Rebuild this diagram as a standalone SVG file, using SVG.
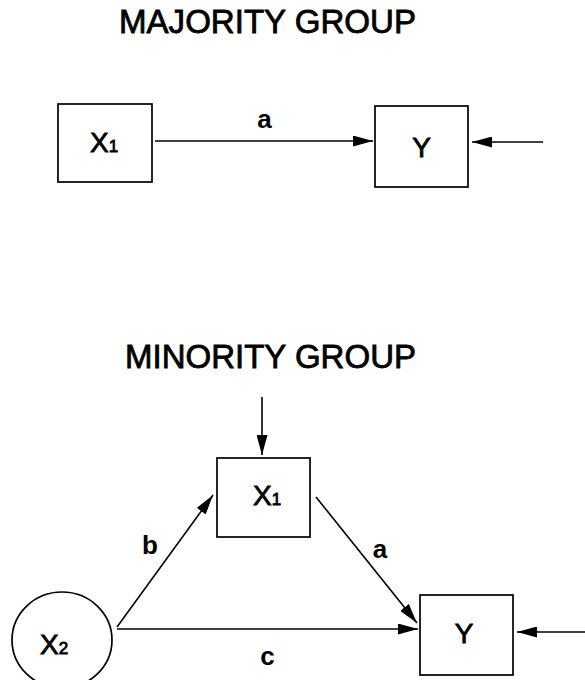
<svg xmlns="http://www.w3.org/2000/svg" width="585" height="680" viewBox="0 0 585 680">
<defs>
<marker id="ah" markerUnits="userSpaceOnUse" markerWidth="20" markerHeight="11" refX="20" refY="5.5" orient="auto">
<path d="M0,0 L20,5.5 L0,11 z" fill="#000"/>
</marker>
<style>
.box{fill:#fff;stroke:#000;stroke-width:1.7}
.edge{fill:none;stroke:#000;stroke-width:1.6;marker-end:url(#ah)}
.title{font-family:"Liberation Sans",Arial,sans-serif;font-size:33px;fill:#000;stroke:#000;stroke-width:0.8}
.var{font-family:"Liberation Sans",Arial,sans-serif;font-size:28px;fill:#000;stroke:#000;stroke-width:0.8}
.sub{font-size:17px}
.lbl{font-family:"Liberation Sans",Arial,sans-serif;font-size:26px;font-weight:bold;fill:#000;text-anchor:middle}
</style>
</defs>
<rect width="585" height="680" fill="#fff"/>
<text class="title" x="119" y="33" textLength="297" lengthAdjust="spacingAndGlyphs">MAJORITY GROUP</text>
<text class="title" x="125" y="368" textLength="291" lengthAdjust="spacingAndGlyphs">MINORITY GROUP</text>
<g id="connectors">
<path class="edge" d="M155,141 L373,141"/>
<path class="edge" d="M543,142 L472,142"/>
<path class="edge" d="M262,397 L262,455"/>
<path class="edge" d="M117,627 L213,495"/>
<path class="edge" d="M316,497 L417,623"/>
<path class="edge" d="M117,629 L418,629"/>
<path class="edge" d="M585,632 L517,632"/>
<text class="lbl" x="264.5" y="128">a</text>
<text class="lbl" x="150" y="554">b</text>
<text class="lbl" x="380" y="558">a</text>
<text class="lbl" x="267.5" y="665">c</text>
</g>
<g id="maj-x1">
<rect class="box" x="58" y="104" width="94" height="78"/>
<text class="var" x="90" y="152">X<tspan class="sub">1</tspan></text>
</g>
<g id="maj-y">
<rect class="box" x="375" y="106" width="93" height="81"/>
<text class="var" x="421.5" y="157" text-anchor="middle">Y</text>
</g>
<g id="min-x1">
<rect class="box" x="217" y="458" width="93" height="79"/>
<text class="var" x="253" y="505">X<tspan class="sub">1</tspan></text>
</g>
<g id="min-x2">
<ellipse class="box" cx="62" cy="640" rx="50" ry="48"/>
<text class="var" x="40" y="654">X<tspan class="sub">2</tspan></text>
</g>
<g id="min-y">
<rect class="box" x="420" y="595" width="93" height="80"/>
<text class="var" x="464" y="643" text-anchor="middle">Y</text>
</g>
</svg>
